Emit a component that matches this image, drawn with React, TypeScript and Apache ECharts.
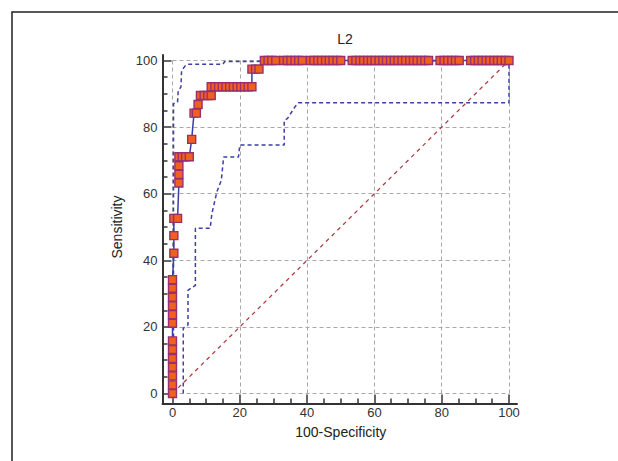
import React, { useEffect, useRef } from 'react';
import * as echarts from 'echarts';

const chartTitle = 'L2';
const xAxisName = '100-Specificity';
const yAxisName = 'Sensitivity';
const axisMin = 0;
const axisMax = 100;
const axisInterval = 20;

// Empirical ROC curve points (100-Specificity, Sensitivity)
const rocFpr = [
  0, 0, 0, 0, 0, 0, 0, 0, 0, 0, 0, 0, 0,
  0.4, 0.4, 0.4, 1.5,
  1.9, 1.9, 1.9, 1.9,
  2.9, 3.9, 5.0,
  5.7,
  6.4, 7.1,
  7.6,
  8.3, 9.4, 10.5, 11.5,
  11.5, 12.6, 13.7, 14.8, 15.9, 17.0, 18.1, 19.2, 20.3, 21.4, 22.5, 23.6,
  23.6, 24.7, 25.7,
  27.3, 28.4, 29.5, 30.7,
  33.0, 34.1, 35.2, 36.4, 37.5, 38.6,
  41.0, 42.0, 43.2, 44.3, 45.5, 46.6, 47.7, 48.9, 50.0,
  53.4, 54.5, 55.7, 56.8, 58.0, 59.1, 60.2, 61.4, 62.5, 63.6, 64.8, 65.9, 67.0, 68.2, 69.3, 70.5, 71.6, 72.7, 73.9, 75.0, 76.1,
  79.5, 80.7, 81.8, 83.0, 84.1, 85.2,
  88.6, 89.8, 90.9, 92.0, 93.2, 94.3, 95.5, 96.6, 97.7, 98.9, 100,
];
const rocTpr = [
  0, 2.6, 5.3, 7.9, 10.5, 13.2, 15.8, 21.1, 23.7, 26.3, 28.9, 31.6, 34.2,
  42.1, 47.4, 52.6, 52.6,
  63.2, 65.8, 68.4, 71.1,
  71.1, 71.1, 71.1,
  76.3,
  84.2, 84.2,
  86.8,
  89.5, 89.5, 89.5, 89.5,
  92.1, 92.1, 92.1, 92.1, 92.1, 92.1, 92.1, 92.1, 92.1, 92.1, 92.1, 92.1,
  97.4, 97.4, 97.4,
  100, 100, 100, 100,
  100, 100, 100, 100, 100, 100,
  100, 100, 100, 100, 100, 100, 100, 100, 100,
  100, 100, 100, 100, 100, 100, 100, 100, 100, 100, 100, 100, 100, 100, 100, 100, 100, 100, 100, 100, 100,
  100, 100, 100, 100, 100, 100,
  100, 100, 100, 100, 100, 100, 100, 100, 100, 100, 100,
];

// Upper confidence bound
const upperFpr = [0.3, 0.3, 1.5, 1.7, 2.5, 2.7, 3.7, 4.6, 15.0, 15.5, 100];
const upperTpr = [0, 87.0, 87.5, 91.0, 92.0, 97.0, 98.3, 98.9, 98.9, 99.7, 100];

// Lower confidence bound
const lowerFpr = [3.2, 3.2, 4.6, 4.6, 6.8, 6.8, 11.2, 11.7, 13.2, 14.5, 15.2, 19.6, 20.0, 33.2, 33.2, 34.2, 36.4, 37.4, 100, 100];
const lowerTpr = [0, 19.6, 20.5, 31.0, 32.5, 49.6, 49.6, 54.0, 60.6, 64.0, 71.0, 71.0, 74.6, 74.6, 82.0, 82.6, 86.1, 87.3, 87.3, 100];

// Reference diagonal
const diagFpr = [0, 100];
const diagTpr = [0, 100];

const zip = (xs: number[], ys: number[]) => xs.map((x, i) => [x, ys[i]]);

const FONT = '"Liberation Sans", Arial, sans-serif';
const AXIS_COLOR = '#333';

export default function App() {
  const ref = useRef<HTMLDivElement>(null);
  useEffect(() => {
    if (!ref.current) return;
    const chart = echarts.init(ref.current, undefined, { renderer: 'svg' });
    const tickLine = { color: AXIS_COLOR, width: 1.5 };
    const mainAxis = {
      type: 'value',
      gridIndex: 0,
      min: axisMin,
      max: axisMax,
      interval: axisInterval,
      offset: 10,
      axisLine: { show: false, onZero: false },
      axisTick: { show: true, inside: true, length: 9, lineStyle: tickLine },
      minorTick: { show: true, splitNumber: 4, length: 5, lineStyle: tickLine },
      splitLine: { show: true, lineStyle: { type: [4, 3], color: '#a8a8a8', width: 1 } },
      minorSplitLine: { show: false },
      nameLocation: 'middle',
      nameTextStyle: { fontSize: 14, color: '#222', fontFamily: FONT },
    };
    const frameAxis = {
      type: 'value',
      gridIndex: 1,
      min: 0,
      max: 1,
      axisLine: { show: true, onZero: false, lineStyle: { color: AXIS_COLOR, width: 2 } },
      axisTick: { show: false },
      axisLabel: { show: false },
      splitLine: { show: false },
    };
    chart.setOption({
      animation: false,
      backgroundColor: '#ffffff',
      textStyle: { fontFamily: FONT },
      title: {
        text: chartTitle,
        left: 340,
        top: 27,
        textAlign: 'center',
        textStyle: { fontSize: 14, fontWeight: 'normal', color: '#222', fontFamily: FONT },
      },
      graphic: [
        {
          type: 'rect',
          silent: true,
          shape: { x: 12, y: 12, width: 660, height: 500 },
          style: { fill: 'none', stroke: '#222', lineWidth: 1.5 },
        },
      ],
      grid: [
        { left: 172.5, right: 109, top: 60.5, bottom: 67.5 },
        { left: 162.5, right: 101, top: 55, bottom: 57.5 },
      ],
      xAxis: [
        {
          ...mainAxis,
          position: 'bottom',
          name: xAxisName,
          nameGap: 21,
          axisLabel: { margin: 2, fontSize: 13, color: '#333', fontFamily: FONT },
        },
        { ...frameAxis, position: 'bottom' },
      ],
      yAxis: [
        {
          ...mainAxis,
          position: 'left',
          name: yAxisName,
          nameGap: 39,
          axisLabel: { margin: 5, fontSize: 13, color: '#333', fontFamily: FONT },
        },
        { ...frameAxis, position: 'left' },
      ],
      series: [
        {
          type: 'line',
          data: zip(diagFpr, diagTpr),
          symbol: 'none',
          lineStyle: { color: '#b04040', width: 1.3, type: [4, 4] },
          z: 2,
        },
        {
          type: 'line',
          data: zip(upperFpr, upperTpr),
          symbol: 'none',
          clip: false,
          lineStyle: { color: '#3d3fa6', width: 1.5, type: [4, 3] },
          z: 3,
        },
        {
          type: 'line',
          data: zip(lowerFpr, lowerTpr),
          symbol: 'none',
          clip: false,
          lineStyle: { color: '#3d3fa6', width: 1.5, type: [4, 3] },
          z: 3,
        },
        {
          type: 'line',
          data: zip(rocFpr, rocTpr),
          symbol: 'rect',
          symbolSize: 8,
          showSymbol: true,
          clip: false,
          itemStyle: { color: '#f0601e', borderColor: '#9a2f6e', borderWidth: 1.4 },
          lineStyle: { color: '#3c3ca8', width: 1.5 },
          z: 4,
        },
      ],
    });
    return () => chart.dispose();
  }, []);
  return (
    <div
      ref={ref}
      style={{ position: 'fixed', left: 0, top: 0, width: 618, height: 461, background: '#fff' }}
    />
  );
}
